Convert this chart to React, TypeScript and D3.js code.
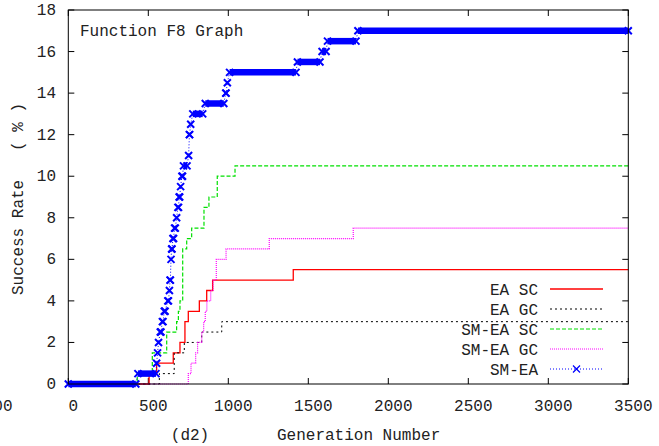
import React from "react";
import * as d3 from "d3";

const W = 659;
const H = 446;

// tick labels
const xTicks = [-500, 0, 500, 1000, 1500, 2000, 2500, 3000, 3500];
const yTicks = [0, 2, 4, 6, 8, 10, 12, 14, 16, 18];

// EA SC : step points (generation, success rate %)
const eaScGen = [0, 505, 552, 656, 698, 729, 750, 819, 865, 902, 1406, 3500];
const eaScRate = [0, 0.5, 1, 1.5, 2, 3, 3.5, 4, 4.5, 5, 5.5, 5.5];

// EA GC
const eaGcGen = [0, 569, 662, 725, 834, 959, 3500];
const eaGcRate = [0, 0.5, 1.5, 2, 2.5, 3, 3];

// SM-EA SC
const smScGen = [0, 431, 525, 615, 677, 688, 698, 715, 740, 771, 848, 879, 931, 1042, 3500];
const smScRate = [0, 0.5, 1.5, 2.5, 3, 3.5, 4, 6.5, 7, 7.5, 8.5, 9, 10, 10.5, 10.5];

// SM-EA GC
const smGcGen = [0, 750, 767, 796, 808, 834, 846, 856, 866, 890, 905, 925, 986, 1256, 1781, 3500];
const smGcRate = [0, 0.5, 1, 1.5, 2, 2.5, 3, 3.5, 4, 4.5, 5, 6, 6.5, 7, 7.5, 7.5];

// SM-EA : runs of samples [rate, first generation, last generation]
const smEaRuns: [number, number, number][] = [
  [0, 0, 422],
  [0.5, 435, 548],
  [1, 552, 552],
  [1.5, 558, 558],
  [2, 564, 564],
  [2.5, 575, 579],
  [3, 588, 592],
  [3.5, 600, 605],
  [4, 622, 626],
  [4.5, 632, 632],
  [5, 636, 638],
  [6, 642, 642],
  [6.5, 646, 648],
  [7, 654, 658],
  [7.5, 664, 669],
  [8, 677, 677],
  [8.5, 685, 689],
  [9, 693, 696],
  [9.5, 702, 702],
  [10, 710, 714],
  [10.5, 720, 742],
  [11, 752, 752],
  [12, 757, 758],
  [12.5, 765, 765],
  [13, 778, 840],
  [13.5, 856, 972],
  [14, 984, 986],
  [14.5, 994, 994],
  [15, 1008, 1423],
  [15.5, 1432, 1573],
  [16, 1586, 1611],
  [16.5, 1620, 1798],
  [17, 1810, 3500],
];

const zip = (a: number[], b: number[]) => a.map((v, i) => [v, b[i]] as [number, number]);

const stepSeries = [
  { name: "EA SC", pts: zip(eaScGen, eaScRate), color: "#ff0000", dash: "", width: 1.3 },
  { name: "EA GC", pts: zip(eaGcGen, eaGcRate), color: "#000000", dash: "2,3", width: 1 },
  { name: "SM-EA SC", pts: zip(smScGen, smScRate), color: "#00e000", dash: "4,2", width: 1.2 },
  { name: "SM-EA GC", pts: zip(smGcGen, smGcRate), color: "#ff00ff", dash: "1,1", width: 1.2 },
];

const font = "'Liberation Mono', 'DejaVu Sans Mono', monospace";
const textColor = "#222";
const blue = "#0000ff";
const cross = "M-3.5,-3.5L3.5,3.5M-3.5,3.5L3.5,-3.5";

export default function App() {
  const x = d3.scaleLinear().domain([0, 3500]).range([68.3, 628.3]);
  const y = d3.scaleLinear().domain([0, 18]).range([384, 10]);

  const step = d3
    .line<[number, number]>()
    .x((d) => x(d[0]))
    .y((d) => y(d[1]))
    .curve(d3.curveStepAfter);
  const straight = d3
    .line<[number, number]>()
    .x((d) => x(d[0]))
    .y((d) => y(d[1]));

  const smEaPts: [number, number][] = [];
  smEaRuns.forEach(([r, a, b]) => {
    smEaPts.push([a, r]);
    if (b !== a) smEaPts.push([b, r]);
  });

  const [x0, x1] = x.range();
  const [yb, yt] = y.range();
  const legendY = (i: number) => 289 + i * 20;

  return (
    <svg
      width={W}
      height={H}
      style={{ position: "absolute", left: 0, top: 0, background: "#fff" }}
      fontFamily={font}
      fontSize={16}
    >
      {/* ticks, mirrored on all sides */}
      {xTicks
        .filter((t) => t >= 0)
        .map((t) => (
          <g key={"xt" + t} stroke="#000" strokeWidth={1}>
            <line x1={x(t)} x2={x(t)} y1={yb} y2={yb - 6} />
            <line x1={x(t)} x2={x(t)} y1={yt} y2={yt + 6} />
          </g>
        ))}
      {yTicks.map((t) => (
        <g key={"yt" + t} stroke="#000" strokeWidth={1}>
          <line x1={x0} x2={x0 + 6} y1={y(t)} y2={y(t)} />
          <line x1={x1} x2={x1 - 6} y1={y(t)} y2={y(t)} />
        </g>
      ))}
      {xTicks.map((t) => (
        <text key={"xl" + t} x={x(t) + 5} y={411} textAnchor="middle" fill={textColor}>
          {t}
        </text>
      ))}
      {yTicks.map((t) => (
        <text key={"yl" + t} x={56} y={y(t) + 5} textAnchor="end" fill={textColor}>
          {t}
        </text>
      ))}

      {/* series */}
      {stepSeries.map((s) => (
        <path
          key={s.name}
          d={step(s.pts) || ""}
          fill="none"
          stroke={s.color}
          strokeWidth={s.width}
          strokeDasharray={s.dash || undefined}
        />
      ))}
      <path d={straight(smEaPts) || ""} fill="none" stroke={blue} strokeWidth={1} strokeDasharray="1,2" />
      {smEaRuns
        .filter(([, a, b]) => b - a > 8)
        .map(([r, a, b]) => (
          <line key={"band" + a} x1={x(a)} x2={x(b)} y1={y(r)} y2={y(r)} stroke={blue} strokeWidth={6.5} />
        ))}
      {smEaPts.map(([g, r], i) => (
        <path
          key={"m" + i}
          d={cross}
          transform={`translate(${x(g)},${y(r)})`}
          stroke={blue}
          strokeWidth={2}
          fill="none"
        />
      ))}

      {/* frame */}
      <rect x={x0} y={yt} width={x1 - x0} height={yb - yt} fill="none" stroke="#000" strokeWidth={1} />

      <text x={80} y={36} fill={textColor}>
        Function F8 Graph
      </text>

      {/* legend */}
      {stepSeries.map((s, i) => (
        <g key={"lg" + s.name}>
          <text x={538} y={legendY(i) + 5.5} textAnchor="end" fill={textColor}>
            {s.name}
          </text>
          <line
            x1={550}
            x2={603}
            y1={legendY(i)}
            y2={legendY(i)}
            stroke={s.color}
            strokeWidth={s.width}
            strokeDasharray={s.dash || undefined}
          />
        </g>
      ))}
      <g>
        <text x={538} y={legendY(4) + 5.5} textAnchor="end" fill={textColor}>
          SM-EA
        </text>
        <line x1={550} x2={603} y1={legendY(4)} y2={legendY(4)} stroke={blue} strokeWidth={1} strokeDasharray="1,2" />
        <path d={cross} transform={`translate(576.5,${legendY(4)})`} stroke={blue} strokeWidth={1.2} fill="none" />
      </g>

      {/* axis titles */}
      <text
        transform="translate(23,199) rotate(-90)"
        textAnchor="middle"
        fill={textColor}
        style={{ whiteSpace: "pre" }}
      >
        {"Success Rate   ( % )"}
      </text>
      <text x={190} y={440} textAnchor="middle" fill={textColor}>
        (d2)
      </text>
      <text x={277} y={440} fill={textColor}>
        Generation Number
      </text>
    </svg>
  );
}
